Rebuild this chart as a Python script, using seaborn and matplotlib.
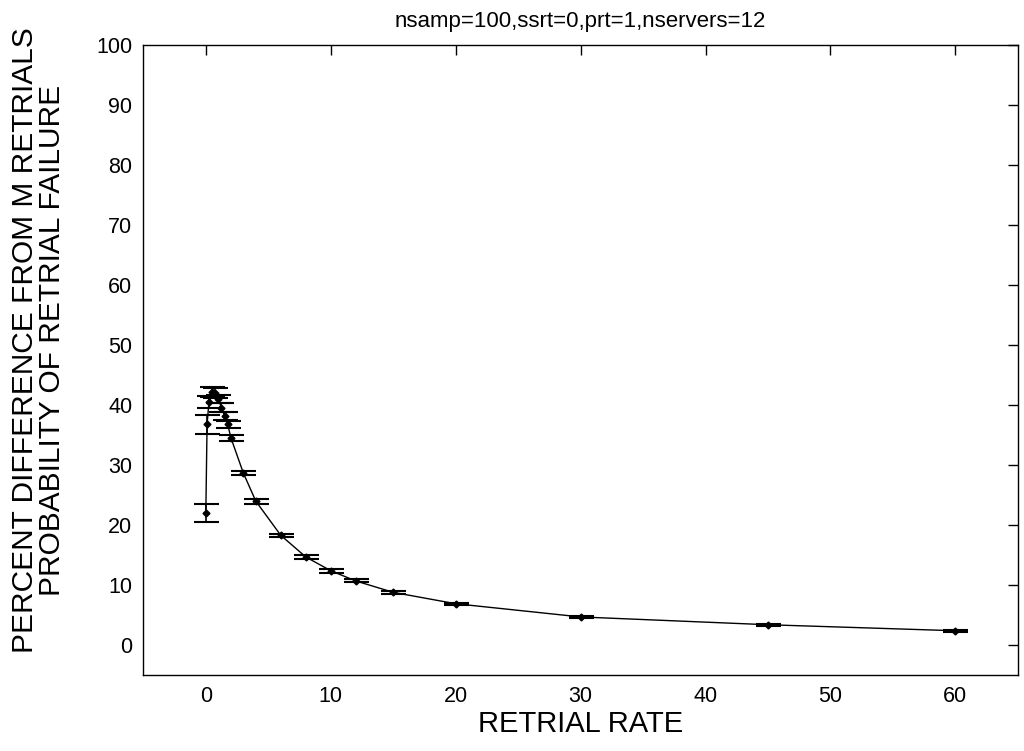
import numpy as np
import pandas as pd
import matplotlib
matplotlib.use("Agg")
import matplotlib.pyplot as plt
import seaborn as sns

# retrial rate vs percent difference
rate = [0, 0.1, 0.25, 0.5, 0.75, 1.0, 1.25, 1.5, 1.75, 2, 3, 4, 6, 8, 10, 12, 15, 20, 30, 45, 60]
pct = [22.0, 36.8, 40.5, 42.2, 42.0, 41.0, 39.6, 38.2, 36.8, 34.6, 28.7, 24.0, 18.3, 14.7, 12.4, 10.7, 8.8, 6.9, 4.7, 3.4, 2.4]
err = [1.5, 1.6, 1.0, 0.8, 0.8, 0.7, 0.7, 0.6, 0.6, 0.5, 0.4, 0.4, 0.3, 0.3, 0.3, 0.25, 0.2, 0.2, 0.15, 0.15, 0.15]

df = pd.DataFrame({"rate": rate, "pct": pct, "err": err})

sns.set_style("white")
plt.rcParams['font.family'] = ['Liberation Sans Narrow', 'Liberation Sans', 'DejaVu Sans']
plt.rcParams.update({"text.color": "black", "axes.labelcolor": "black",
                     "xtick.color": "black", "ytick.color": "black"})

fig = plt.figure(figsize=(10.24, 7.51), dpi=100)
ax = fig.add_axes([0.14, 0.101, 0.854, 0.839])

sns.lineplot(data=df, x="rate", y="pct", color="black", lw=1, ax=ax)
ax.errorbar(df["rate"], df["pct"], yerr=df["err"], fmt="D", ms=3.5, color="black",
            ecolor="black", elinewidth=1.2, capsize=9, capthick=1.5)

ax.set_xlim(-5, 65)
ax.set_ylim(-5, 100)
ax.set_xticks(range(0, 61, 10))
ax.set_yticks(range(0, 101, 10))
ax.tick_params(direction="in", length=7, width=1, labelsize=15.5, top=True, right=True,
               labeltop=False, labelright=False, pad=8)
for s in ax.spines.values():
    s.set_color("black")
    s.set_linewidth(1)

ax.set_xlabel("RETRIAL RATE", fontsize=21, labelpad=2)
ax.set_ylabel("PERCENT DIFFERENCE FROM M RETRIALS\nPROBABILITY OF RETRIAL FAILURE",
              fontsize=21.5, linespacing=0.95, labelpad=22)
ax.yaxis.label.set_y(0.532)
ax.set_title("nsamp=100,ssrt=0,prt=1,nservers=12", fontsize=16, pad=13)

fig.savefig("out.png", dpi=100)
